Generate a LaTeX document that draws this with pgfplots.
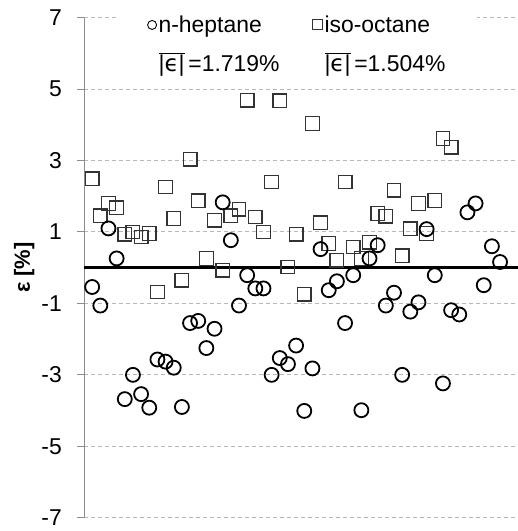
\documentclass[border=0pt]{standalone}
\usepackage{fontspec}
\setmainfont{Liberation Sans}
\newfontfamily\dv{DejaVu Sans}
\usepackage{pgfplots}
\pgfplotsset{compat=1.18}
\pgfplotsset{onemark/.style={legend image code/.code={\draw[##1] plot coordinates {(0cm,0cm)};}}}
\begin{document}
\begin{tikzpicture}
\path[use as bounding box] (0,0) rectangle (518bp,531bp);
\begin{axis}[
  at={(84bp,13.3bp)}, anchor=south west,
  scale only axis, width=434bp, height=500bp,
  xmin=0, xmax=53.2, ymin=-7, ymax=7,
  axis x line=none,
  axis y line*=left,
  y axis line style={draw=black!45, line width=1bp, -},
  ytick={-7,-5,-3,-1,1,3,5,7},
  yticklabels={-7,-5,-3,-1,1,3,5,7},
  tick align=outside,
  major tick length=7bp,
  ytick style={draw=black!45, line width=1bp},
  yticklabel style={font=\fontsize{23}{27}\selectfont, inner sep=0pt, xshift=-15bp},
  ymajorgrids,
  major grid style={dash pattern=on 4bp off 3bp, draw=black!28, line width=1bp},
  ylabel={\textbf{ε [\%]}},
  every axis y label/.style={at={(axis description cs:-0.138,0.5)}, rotate=90, anchor=center, font=\fontsize{22}{26}\selectfont},
  legend columns=2,
  legend cell align=left,
  legend style={at={(0.077,1.012)}, anchor=north west, draw=none, fill=white,
    font=\fontsize{23}{27}\selectfont, inner xsep=30bp, inner ysep=2bp, row sep=15bp,
    /tikz/every even column/.append style={column sep=31bp}},
]
\addplot[black, line width=2.6bp, forget plot] coordinates {(0,0) (53.2,0)};
\addplot[only marks, mark=square, mark size=6.8bp, mark options={line width=1.3bp, draw=black!80}, forget plot] coordinates {
(1,2.49) (2,1.45) (3,1.80) (4,1.68) (5,0.94) (6,1.00) (7,0.86) (8,0.96) (9,-0.68) (10,2.26)
(11,1.38) (12,-0.35) (13,3.04) (14,1.87) (15,0.26) (16,1.33) (17,-0.07) (18,1.45) (19,1.64) (20,4.69)
(21,1.42) (22,1.00) (23,2.40) (24,4.67) (25,0.02) (26,0.94) (27,-0.74) (28,4.04) (29,1.26) (30,0.68)
(31,0.21) (32,2.40) (33,0.58) (34,0.26) (35,0.71) (36,1.52) (37,1.44) (38,2.17) (39,0.33) (40,1.09)
(41,1.80) (42,0.96) (43,1.88) (44,3.62) (45,3.37)
};
\addplot[only marks, mark=o, mark size=7bp, mark options={line width=1.8bp, draw=black}, forget plot] coordinates {
(1,-0.54) (2,-1.06) (3,1.10) (4,0.26) (5,-3.68) (6,-3.00) (7,-3.54) (8,-3.92) (9,-2.57) (10,-2.63)
(11,-2.80) (12,-3.90) (13,-1.55) (14,-1.49) (15,-2.25) (16,-1.71) (17,1.83) (18,0.77) (19,-1.06) (20,-0.21)
(21,-0.58) (22,-0.58) (23,-3.00) (24,-2.53) (25,-2.70) (26,-2.18) (27,-4.01) (28,-2.82) (29,0.52) (30,-0.63)
(31,-0.38) (32,-1.55) (33,-0.21) (34,-3.99) (35,0.26) (36,0.63) (37,-1.06) (38,-0.70) (39,-3.00) (40,-1.23)
(41,-0.97) (42,1.08) (43,-0.21) (44,-3.24) (45,-1.19) (46,-1.31) (47,1.55) (48,1.80) (49,-0.49) (50,0.60)
(51,0.16)
};
\addlegendimage{only marks, mark=o, mark size=4.5bp, mark options={line width=0.9bp, draw=black}, onemark}
\addlegendentry{n-heptane}
\addlegendimage{only marks, mark=square, mark size=5bp, mark options={line width=0.9bp, draw=black!80}, onemark}
\addlegendentry{iso-octane}
\addlegendimage{only marks, mark=o, mark size=4.5bp, opacity=0, mark options={opacity=0}, onemark}
\addlegendentry{$\overline{\hbox{|{\dv ϵ}|}}$\,=1.719\%}
\addlegendimage{only marks, mark=square, mark size=5bp, opacity=0, mark options={opacity=0}, onemark}
\addlegendentry{$\overline{\hbox{|{\dv ϵ}|}}$\,=1.504\%}
\end{axis}
\end{tikzpicture}
\end{document}
